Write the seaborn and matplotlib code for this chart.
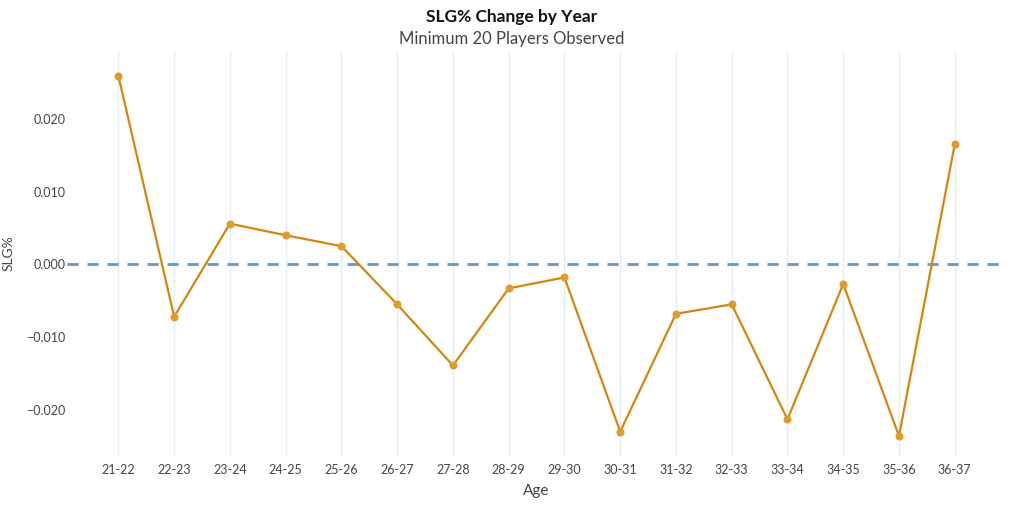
import matplotlib
matplotlib.use("Agg")
import matplotlib.pyplot as plt
import seaborn as sns
import pandas as pd

# Age windows and year-over-year SLG% change
ages = ['21-22', '22-23', '23-24', '24-25', '25-26', '26-27', '27-28', '28-29',
        '29-30', '30-31', '31-32', '32-33', '33-34', '34-35', '35-36', '36-37']
slg_change = [0.0259, -0.0072, 0.0056, 0.0040, 0.0025, -0.0055, -0.0139, -0.0033,
              -0.0018, -0.0230, -0.0068, -0.0055, -0.0213, -0.0027, -0.0236, 0.0165]
y_ticks = [-0.02, -0.01, 0.0, 0.01, 0.02]

df = pd.DataFrame({'Age': ages, 'SLG%': slg_change})

sns.set_style("white")
plt.rcParams['font.family'] = ['Lato', 'DejaVu Sans']

fig, ax = plt.subplots(figsize=(10.24, 5.12), dpi=100)
fig.subplots_adjust(left=0.065, right=0.983, top=0.90, bottom=0.11)

# vertical grid at each category
for i in range(len(ages)):
    ax.axvline(i, color='#e3ecf7', lw=1, zorder=0)

ax.axhline(0, color='#5b9bd9', lw=2, ls=(0, (4, 3.2)), zorder=1)

sns.lineplot(data=df, x='Age', y='SLG%', sort=False, color='#d4870f', lw=1.6,
             marker='o', markersize=5, markerfacecolor='#e09b2d',
             markeredgecolor='#e09b2d', ax=ax, zorder=3)

ax.set_xlim(-0.93, len(ages) - 1 + 0.93)
ax.set_ylim(-0.0263, 0.0293)
ax.set_yticks(y_ticks)
ax.set_yticklabels([f"{v:.3f}".replace('-', '\u2212') for v in y_ticks])
for s in ax.spines.values():
    s.set_visible(False)
ax.tick_params(axis='y', length=0, labelsize=9, colors='#444444', pad=1)
ax.tick_params(axis='x', length=0, labelsize=9, colors='#444444', pad=6)
ax.set_xlabel('Age', fontsize=11, color='#444444', labelpad=6)
ax.set_ylabel('SLG%', fontsize=10, color='#444444')
ax.yaxis.set_label_coords(-0.055, 0.5)

fig.text(0.5, 0.958, 'SLG% Change by Year', ha='center', fontsize=12.5,
         fontweight='bold', color='#111111')
fig.text(0.5, 0.915, 'Minimum 20 Players Observed', ha='center', fontsize=12,
         color='#444444')

fig.savefig('out.png', dpi=100)
